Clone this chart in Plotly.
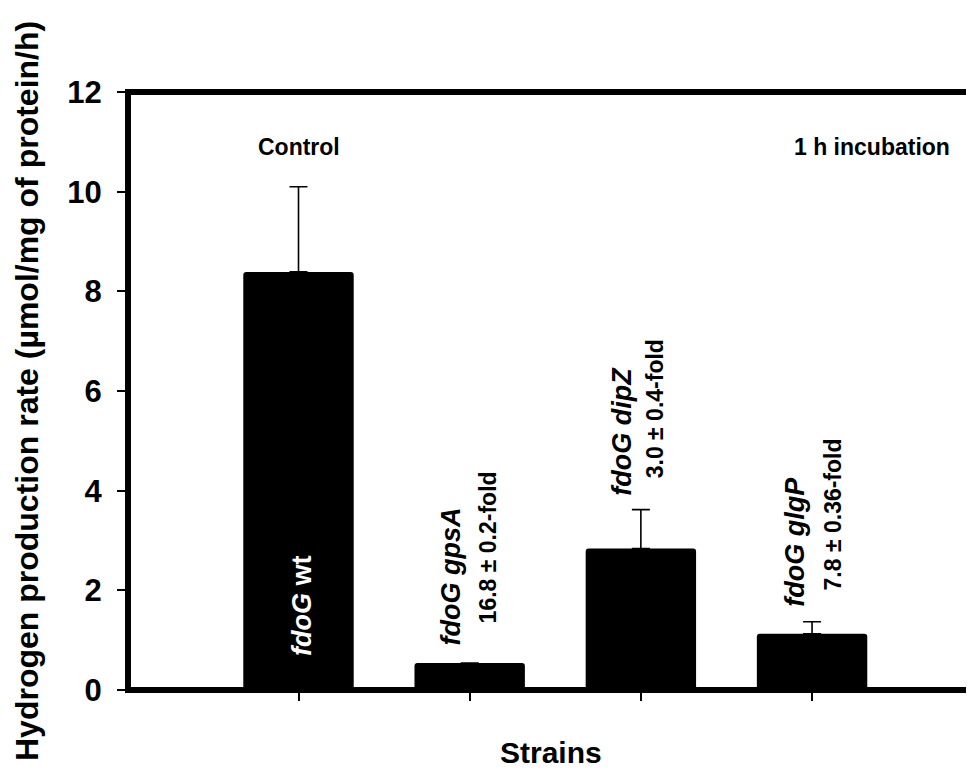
import plotly.graph_objects as go

# ---- data ----
strains = ["fdoG wt", "fdoG gpsA", "fdoG dipZ", "fdoG glgP"]
rates = [8.39, 0.54, 2.84, 1.13]
errors_up = [1.71, 0.0, 0.78, 0.24]
fold_labels = ["", "16.8 ± 0.2-fold", "3.0 ± 0.4-fold", "7.8 ± 0.36-fold"]
y_ticks = [0, 2, 4, 6, 8, 10, 12]

FONT = "Liberation Sans, Arial, sans-serif"
xpos = list(range(len(strains)))

fig = go.Figure()
fig.add_trace(go.Bar(
    x=xpos, y=rates, width=0.645,
    marker=dict(color="black", line=dict(width=0)),
    error_y=dict(type="data", symmetric=False, array=errors_up,
                 arrayminus=[0] * len(rates), thickness=1.6, width=9,
                 color="black"),
    hoverinfo="skip",
))

# page body has an 8px default margin; figure sized to end at the window edge
W, H = 966, 770
ml, mr, mt, mb = 120, 0, 84, 88
pw, ph = W - ml - mr, H - mt - mb
lw = 6
PL, PB = 128, 690   # plot left / bottom in window pixels

fig.update_layout(
    width=W, height=H,
    margin=dict(l=ml, r=mr, t=mt, b=mb),
    paper_bgcolor="white", plot_bgcolor="white",
    showlegend=False,
    barcornerradius=3,
    font=dict(family=FONT, color="black"),
    xaxis=dict(range=[-0.996, 3.946], tickvals=xpos, showticklabels=False,
               ticks="outside", ticklen=10, tickwidth=1.6, tickcolor="black",
               showline=False, showgrid=False, zeroline=False, fixedrange=True),
    yaxis=dict(range=[0, 12], tickvals=y_ticks,
               ticktext=[f"<b>{v}</b>" for v in y_ticks],
               ticks="outside", ticklen=10, tickwidth=1.6, tickcolor="black",
               tickfont=dict(size=31, family=FONT, color="black"),
               ticklabelstandoff=9,
               showline=False, showgrid=False, zeroline=False, fixedrange=True),
)

# frame lines (left, bottom, top); right side runs off the page
dx = (lw / 2) / pw
dy = (lw / 2) / ph
fig.add_shape(type="line", xref="paper", yref="paper", x0=0, x1=0, y0=-dy, y1=1 + dy,
              line=dict(color="black", width=lw), layer="above")
fig.add_shape(type="line", xref="paper", yref="paper", x0=-dx, x1=1, y0=0, y1=0,
              line=dict(color="black", width=lw), layer="above")
fig.add_shape(type="line", xref="paper", yref="paper", x0=-dx, x1=1, y0=1, y1=1,
              line=dict(color="black", width=lw), layer="above")

# axis titles
fig.add_annotation(text="<b>Hydrogen production rate (µmol/mg of protein/h)</b>",
                   xref="paper", yref="paper", x=(27 - PL) / pw, y=0.5,
                   xanchor="center", yanchor="middle", textangle=-90,
                   showarrow=False, font=dict(size=32, family=FONT))
fig.add_annotation(text="<b>Strains</b>", xref="paper", yref="paper",
                   x=0.5, y=-(752 - PB) / ph,
                   xanchor="center", yanchor="middle", showarrow=False,
                   font=dict(size=30, family=FONT))

# header texts
fig.add_annotation(text="<b>Control</b>", x=0, y=10.9, xref="x", yref="y",
                   xanchor="center", yanchor="middle", showarrow=False,
                   font=dict(size=23, family=FONT))
fig.add_annotation(text="<b>1 h incubation</b>", x=3.35, y=10.9, xref="x", yref="y",
                   xanchor="center", yanchor="middle", showarrow=False,
                   font=dict(size=23, family=FONT))

# strain labels (rotated)
name_pos = [(0.02, 0.64), (0.89, 0.85), (1.89, 3.85), (2.90, 1.63)]
fold_pos = [None, (1.105, 1.29), (2.08, 4.21), (3.12, 1.95)]
for i, s in enumerate(strains):
    gene, rest = s.split(" ", 1)
    if i == 0:
        txt = f"<b><i>{gene}</i> {rest}</b>"
        col = "white"
    else:
        txt = f"<b><i>{gene} {rest}</i></b>"
        col = "black"
    fig.add_annotation(text=txt, x=name_pos[i][0], y=name_pos[i][1], xref="x", yref="y",
                       xanchor="center", yanchor="bottom", textangle=-90,
                       showarrow=False, font=dict(size=27, family=FONT, color=col))
    if fold_labels[i]:
        fig.add_annotation(text=f"<b>{fold_labels[i]}</b>", x=fold_pos[i][0], y=fold_pos[i][1],
                           xref="x", yref="y", xanchor="center", yanchor="bottom",
                           textangle=-90, showarrow=False,
                           font=dict(size=23, family=FONT, color="black"))

fig.write_html("out.html")
